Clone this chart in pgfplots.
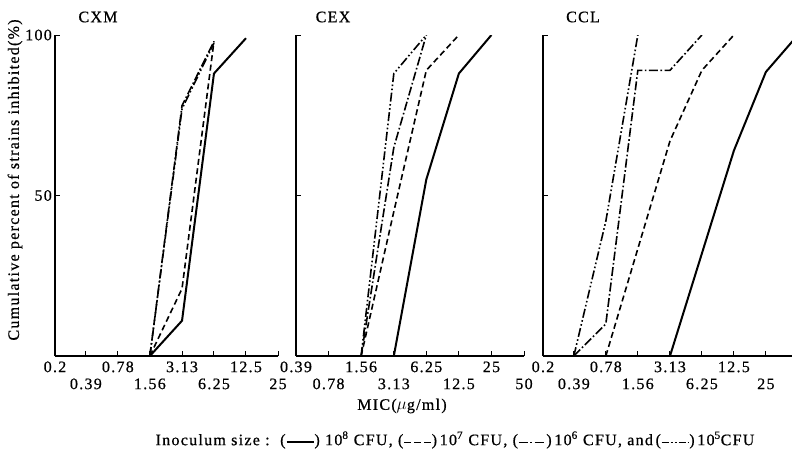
\documentclass[border=0pt]{standalone}
\usepackage{fontspec}
\setmainfont{Liberation Serif}[LetterSpace=8, FakeBold=0.6]
\usepackage{pgfplots}
\pgfplotsset{compat=1.18}

\tikzset{
  s8/.style={black, line width=2pt, solid},
  s7/.style={black, line width=1.6pt, dash pattern=on 6pt off 3.5pt},
  s6/.style={black, line width=1.6pt, dash pattern=on 9pt off 2.5pt on 1.6pt off 2.5pt},
  s5/.style={black, line width=1.6pt, dash pattern=on 9pt off 2.5pt on 1.6pt off 2.5pt on 1.6pt off 2.5pt},
}
\newcommand{\up}[1]{\strut #1\\\strut}
\newcommand{\dn}[1]{\strut\\\strut #1}
\newcommand{\fs}{\fontsize{16}{17}\selectfont}

\pgfplotsset{
  panel/.style={
    scale only axis, ymin=0, ymax=100,
    height=321pt, anchor=south west,
    axis x line=bottom, axis y line=left,
    axis line style={-, line width=1.2pt},
    tick align=inside, major tick length=5pt,
    every tick/.style={black, line width=1pt},
    ytick={50,100}, yticklabels={},
    xticklabel style={align=center, anchor=north, font=\fs, inner sep=0pt, yshift=-4pt},
    yticklabel style={font=\fs, inner sep=0pt, xshift=-3pt},
    minor tick num=0,
  },
}

\newsavebox\legA \newsavebox\legB \newsavebox\legC \newsavebox\legD
\sbox\legA{\tikz[baseline=-0.6ex]\draw[black, line width=2pt] (0,0)--(27pt,0);}
\sbox\legB{\tikz[baseline=-0.6ex]\draw[black, line width=1.4pt, dash pattern=on 7pt off 3pt] (0,0)--(27pt,0);}
\sbox\legC{\tikz[baseline=-0.6ex]\draw[black, line width=1.4pt, dash pattern=on 9pt off 2.5pt on 2pt off 2.5pt] (0,0)--(27pt,0);}
\sbox\legD{\tikz[baseline=-0.6ex]\draw[black, line width=1.4pt, dash pattern=on 7pt off 2pt on 2pt off 2pt on 2pt off 2pt] (0,0)--(27pt,0);}

\begin{document}
\begin{tikzpicture}
\useasboundingbox (0,0) rectangle (792pt,-460pt);

% ---------------- CXM
\begin{semilogxaxis}[panel, at={(55pt,-356pt)}, width=223pt,
  xmin=0.2, xmax=25,
  xtick={0.2,0.39,0.78,1.56,3.13,6.25,12.5,25},
  xticklabels={\up{0.2},\dn{0.39},\up{0.78},\dn{1.56},\up{3.13},\dn{6.25},\up{12.5},\dn{25}},
  yticklabels={50,100},
]
\addplot[s8] coordinates {(1.56,0) (3.13,11) (6.25,88) (12.5,99)};
\addplot[s7] coordinates {(1.56,0) (3.13,21) (6.25,98)};
\addplot[s6] coordinates {(1.56,0) (3.13,78) (6.25,98)};
\addplot[s5] coordinates {(1.56,0) (3.13,77) (6.25,97.5)};
\end{semilogxaxis}

% ---------------- CEX
\begin{semilogxaxis}[panel, at={(296pt,-356pt)}, width=228pt,
  xmin=0.39, xmax=50,
  xtick={0.39,0.78,1.56,3.13,6.25,12.5,25,50},
  xticklabels={\up{0.39},\dn{0.78},\up{1.56},\dn{3.13},\up{6.25},\dn{12.5},\up{25},\dn{50}},
]
\addplot[s8] coordinates {(3.13,0) (6.25,55) (12.5,88) (25,100)};
\addplot[s7] coordinates {(1.56,0) (3.13,45) (6.25,89) (12.5,100)};
\addplot[s6] coordinates {(1.56,0) (3.13,65) (6.25,100)};
\addplot[s5] coordinates {(1.56,0) (3.13,88) (6.25,100)};
\end{semilogxaxis}

% ---------------- CCL
\begin{semilogxaxis}[panel, at={(543pt,-356pt)}, width=249pt,
  xmin=0.2, xmax=44,
  xtick={0.2,0.39,0.78,1.56,3.13,6.25,12.5,25},
  xticklabels={\up{0.2},\dn{0.39},\up{0.78},\dn{1.56},\up{3.13},\dn{6.25},\up{12.5},\dn{25}},
]
\addplot[s8] coordinates {(3.13,0) (12.5,64) (25,88.5) (50,100)};
\addplot[s7] coordinates {(0.78,0) (3.13,67) (6.25,89) (12.5,100)};
\addplot[s6] coordinates {(0.39,0) (0.78,10) (1.56,89) (3.13,89) (6.25,100)};
\addplot[s5] coordinates {(0.39,0) (0.78,42) (1.56,100)};
\end{semilogxaxis}

\node[font=\fs] at (98pt,-17pt) {CXM};
\node[font=\fs] at (333pt,-17pt) {CEX};
\node[font=\fs] at (583pt,-17pt) {CCL};
\node[font=\fs] at (402pt,-406pt) {MIC($\mu$g/ml)};
\node[font=\fs, rotate=90] at (15pt,-180pt) {Cumulative percent of strains inhibited(\%)};
\node[font=\fs, inner sep=0pt] at (455pt,-440pt) {Inoculum size\ :\ \ (\usebox\legA)\ 10\textsuperscript{8} CFU,\ (\usebox\legB)\,10\textsuperscript{7} CFU,\ (\usebox\legC)\,10\textsuperscript{6} CFU, and\,(\usebox\legD)\,10\textsuperscript{5}CFU};
\end{tikzpicture}
\end{document}
